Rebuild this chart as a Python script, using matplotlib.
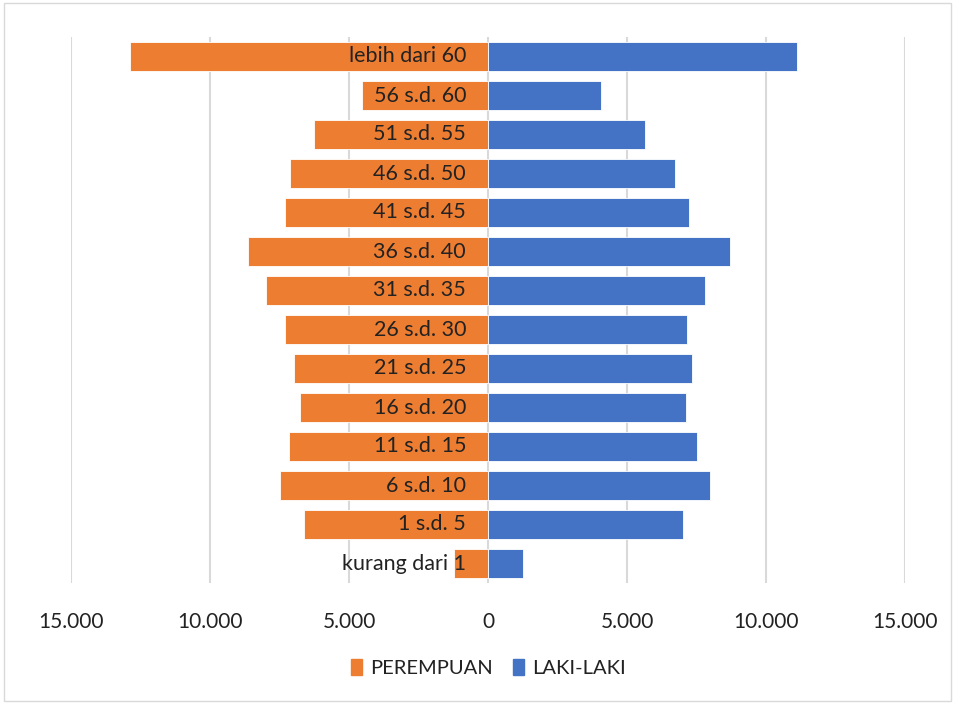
import matplotlib.pyplot as plt
from matplotlib.patches import Patch
from matplotlib.ticker import FuncFormatter
import numpy as np

# Age groups, bottom to top
age_groups = ["kurang dari 1", "1 s.d. 5", "6 s.d. 10", "11 s.d. 15", "16 s.d. 20",
              "21 s.d. 25", "26 s.d. 30", "31 s.d. 35", "36 s.d. 40", "41 s.d. 45",
              "46 s.d. 50", "51 s.d. 55", "56 s.d. 60", "lebih dari 60"]
perempuan = [1220, 6620, 7480, 7160, 6760, 6980, 7300, 7990, 8630, 7300,
             7120, 6260, 4530, 12880]
laki_laki = [1260, 7010, 7990, 7520, 7120, 7340, 7160, 7800, 8700, 7230,
             6730, 5650, 4070, 11110]
x_ticks = [-15000, -10000, -5000, 0, 5000, 10000, 15000]

ORANGE = "#ED7D31"
BLUE = "#4472C4"

plt.rcParams['font.family'] = ['Lato', 'DejaVu Sans']

fig = plt.figure(figsize=(9.55, 7.04), dpi=100)
ax = fig.add_axes([71 / 955, 1 - 583 / 704, (905 - 71) / 955, (583 - 37) / 704])

y = np.arange(len(age_groups))
ax.barh(y, [-v for v in perempuan], height=0.72, color=ORANGE,
        edgecolor="white", linewidth=0.6, zorder=2)
ax.barh(y, laki_laki, height=0.72, color=BLUE,
        edgecolor="white", linewidth=0.6, zorder=2)

# category labels at the inner end of the orange bars
for yi, name in zip(y, age_groups):
    ax.text(-790, yi, name, ha="right", va="center", fontsize=15.5,
            color="#222222", zorder=3)

ax.set_xlim(-15000, 15000)
ax.set_ylim(-0.5, len(age_groups) - 0.5)
ax.set_xticks(x_ticks)
ax.xaxis.set_major_formatter(FuncFormatter(
    lambda v, p: f"{abs(int(v)):,}".replace(",", ".")))
ax.tick_params(axis="x", length=0, pad=21, labelsize=15, labelcolor="#222222")
ax.set_yticks([])
ax.grid(axis="x", color="#d9d9d9", linewidth=1.5, zorder=0)
ax.set_axisbelow(True)
for s in ax.spines.values():
    s.set_visible(False)

handles = [Patch(color=ORANGE, label="PEREMPUAN"), Patch(color=BLUE, label="LAKI-LAKI")]
fig.legend(handles=handles, loc="center", bbox_to_anchor=(488 / 955, 1 - 668 / 704),
           ncol=2, frameon=False, fontsize=14.5, handlelength=0.55, handleheight=0.85,
           handletextpad=0.4, columnspacing=1.0, labelcolor="#222222")

# light chart border
fig.patches.append(plt.Rectangle((0.004, 0.004), 0.992, 0.992, transform=fig.transFigure,
                                 fill=False, edgecolor="#d9d9d9", linewidth=1))

fig.savefig("out.png", dpi=100)
